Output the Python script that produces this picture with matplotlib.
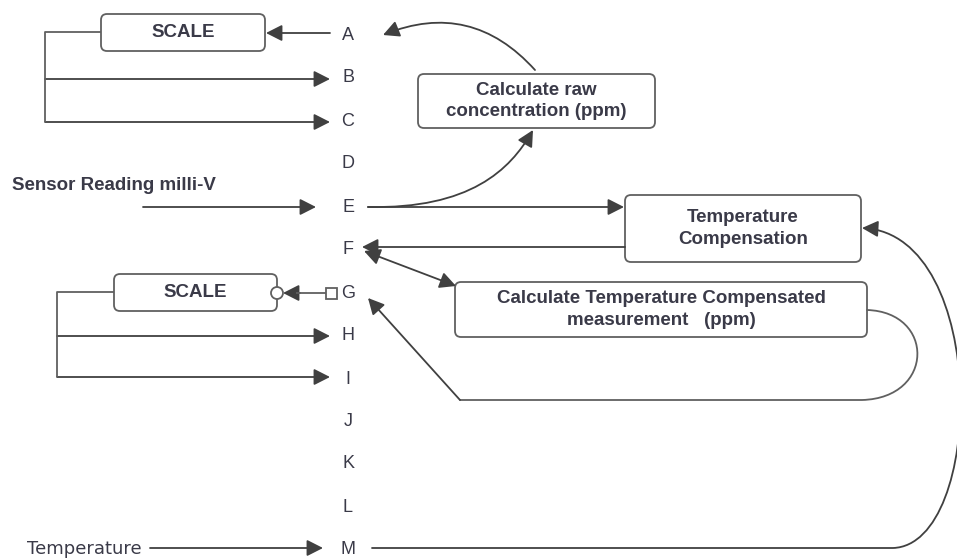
import matplotlib.pyplot as plt
from matplotlib.patches import FancyBboxPatch, FancyArrowPatch, Circle, Rectangle
from matplotlib.path import Path

# node letters down the middle column
letters = ['A', 'B', 'C', 'D', 'E', 'F', 'G', 'H', 'I', 'J', 'K', 'L', 'M']
letter_y = [35, 78, 121, 163, 207, 250, 293, 336, 379, 421, 464, 507, 549]

# boxes: label, x0, y0, x1, y1
box_labels = ['SCALE', 'Calculate raw\nconcentration (ppm)', 'Temperature\nCompensation',
              'SCALE', 'Calculate Temperature Compensated\nmeasurement   (ppm)']
box_x0 = [101, 418, 625, 114, 455]
box_y0 = [14, 74, 195, 274, 282]
box_x1 = [265, 655, 861, 277, 867]
box_y1 = [51, 128, 262, 311, 337]

LC = '#606060'
AC = '#404040'
TC = '#3a3a48'
FONT = ['Liberation Sans', 'DejaVu Sans']
HEAD = '-|>,head_length=0.65,head_width=0.33'

fig = plt.figure(figsize=(9.57, 5.58), dpi=100)
ax = fig.add_axes([0, 0, 1, 1])
ax.set_xlim(0, 957)
ax.set_ylim(558, 0)
ax.axis('off')

for l, y in zip(letters, letter_y):
    ax.text(348, y, l, ha='center', va='center', fontsize=13, color=TC, family=FONT)

for lab, x0, y0, x1, y1 in zip(box_labels, box_x0, box_y0, box_x1, box_y1):
    ax.add_patch(FancyBboxPatch((x0, y0), x1 - x0, y1 - y0,
                                boxstyle='round,pad=0,rounding_size=6',
                                fc='white', ec=LC, lw=1.3))
    ax.text((x0 + x1) / 2, (y0 + y1) / 2, lab, ha='center', va='center',
            fontsize=13.5, fontweight='bold', color=TC, family=FONT, linespacing=1.35)


def arrow(p0, p1, rad=0.0, both=False):
    style = HEAD.replace('-|>', '<|-|>') if both else HEAD
    ax.add_patch(FancyArrowPatch(p0, p1, arrowstyle=style,
                                 connectionstyle='arc3,rad=%s' % rad, mutation_scale=15,
                                 color=AC, lw=1.3, shrinkA=0, shrinkB=0))


def curve(verts, codes, head=True):
    ax.add_patch(FancyArrowPatch(path=Path(verts, codes), arrowstyle=HEAD if head else '-',
                                 mutation_scale=15, color=AC if head else LC, lw=1.3))


def line(xs, ys):
    ax.plot(xs, ys, color=LC, lw=1.3, solid_capstyle='butt')


# top SCALE group
arrow((330, 33), (266, 33))
line([101, 45, 45], [32, 32, 122])
arrow((45, 79), (330, 79))
arrow((45, 122), (330, 122))

# raw concentration loop
arrow((535, 70), (383, 35), rad=0.35)
curve([(368, 207), (470, 209), (510, 170), (533, 130)],
      [Path.MOVETO, Path.CURVE4, Path.CURVE4, Path.CURVE4])
arrow((368, 207), (624, 207))

# sensor input
ax.text(12, 186, 'Sensor Reading milli-V', ha='left', va='center', fontsize=13.5,
        fontweight='bold', color=TC, family=FONT)
arrow((143, 207), (316, 207))

# F
arrow((625, 247), (362, 247))
arrow((364, 251), (456, 286), both=True)

# G group
line([114, 57, 57], [292, 292, 377])
arrow((57, 336), (330, 336))
arrow((57, 377), (330, 377))
line([326, 296], [293, 293])
arrow((300, 293), (283, 293))
ax.add_patch(Circle((277, 293), 6, fc='white', ec=LC, lw=1.3, zorder=3))
ax.add_patch(Rectangle((326, 288), 11, 11, fc='white', ec=LC, lw=1.3, zorder=3))

# compensated measurement loop back to G
curve([(867, 310), (935, 312), (935, 398), (862, 400), (460, 400)],
      [Path.MOVETO, Path.CURVE4, Path.CURVE4, Path.CURVE4, Path.LINETO], head=False)
arrow((460, 400), (368, 298))

# temperature input
ax.text(27, 549, 'Temperature', ha='left', va='center', fontsize=13, color=TC,
        family=['Liberation Sans Narrow', 'DejaVu Sans'])
arrow((150, 548), (323, 548))
curve([(372, 548), (893, 548), (985, 545), (990, 235), (862, 228)],
      [Path.MOVETO, Path.LINETO, Path.CURVE4, Path.CURVE4, Path.CURVE4])

fig.savefig('out.png', dpi=100)
